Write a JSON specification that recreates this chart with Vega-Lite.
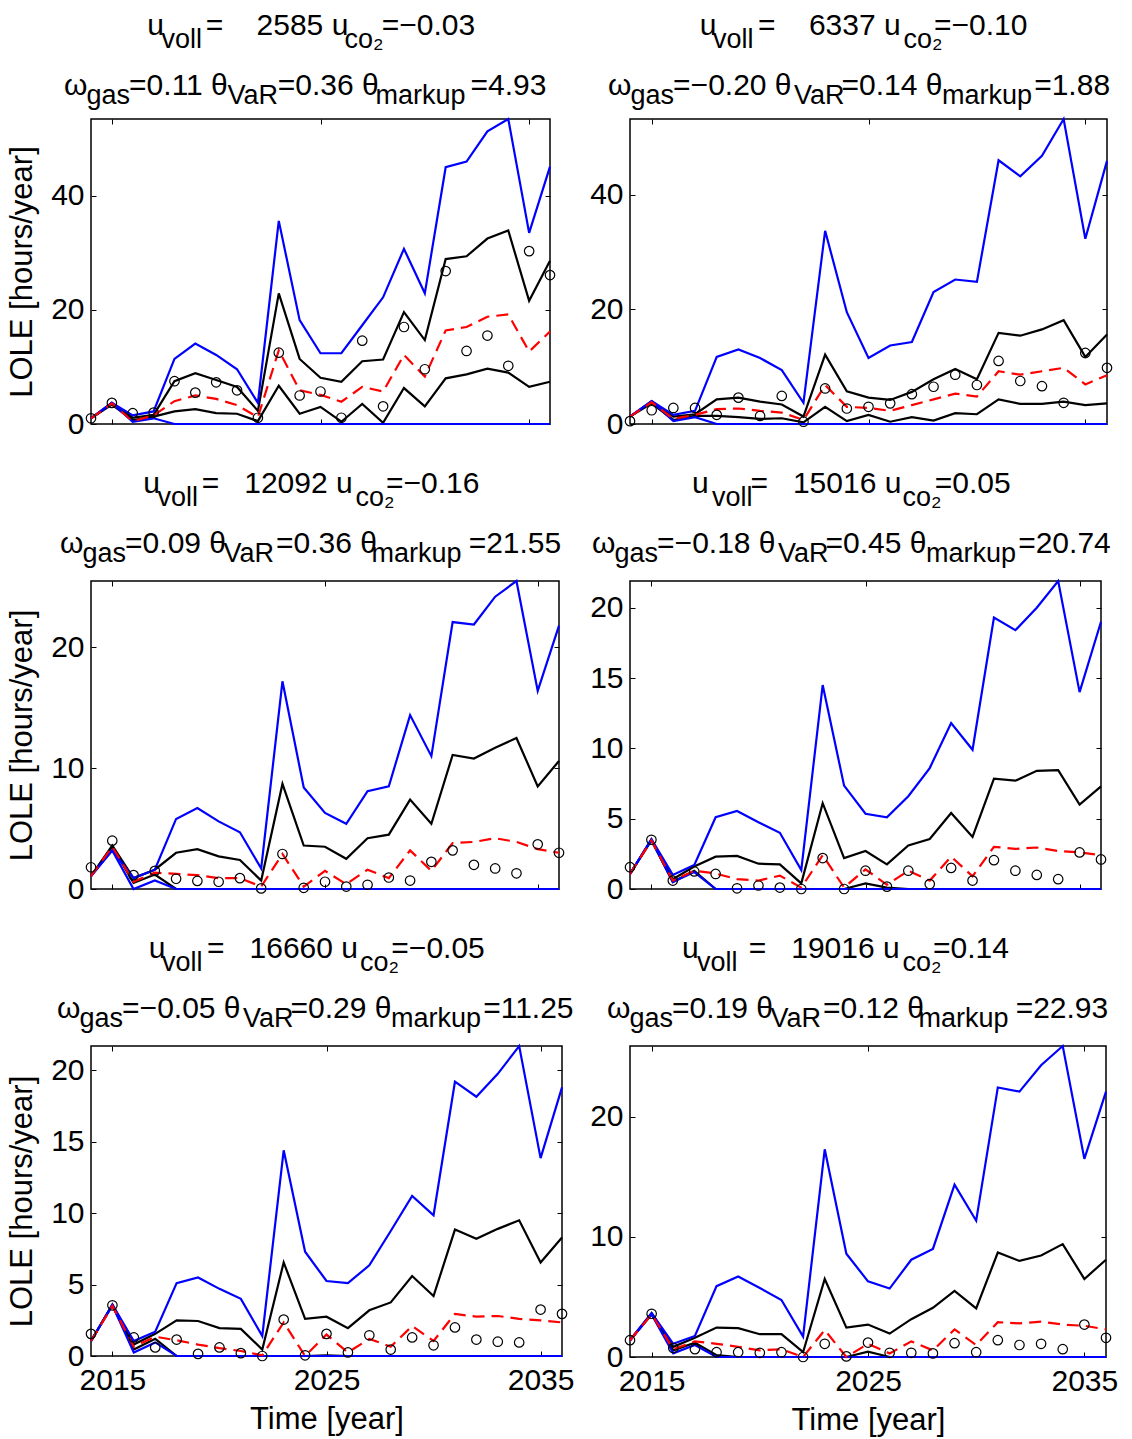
{
"$schema": "https://vega.github.io/schema/vega-lite/v6.json",
"background": "white",
"padding": {"left": 5, "top": 9, "right": 5, "bottom": 5},
"data": {"values": [
{"p":1,"year":2014,"bh":1.0,"bl":1.0,"kh":1.0,"kl":1.0,"md":1.0,"ob":1.0},
{"p":1,"year":2015,"bh":3.7,"bl":3.7,"kh":3.7,"kl":3.4,"md":3.6,"ob":3.7},
{"p":1,"year":2016,"bh":1.5,"bl":0.4,"kh":1.1,"kl":0.7,"md":0.5,"ob":1.9},
{"p":1,"year":2017,"bh":2.2,"bl":1.0,"kh":1.6,"kl":1.3,"md":1.5,"ob":2.0},
{"p":1,"year":2018,"bh":11.4,"bl":0,"kh":7.5,"kl":2.2,"md":4.0,"ob":7.5},
{"p":1,"year":2019,"bh":14.1,"bl":0,"kh":8.9,"kl":2.6,"md":5.0,"ob":5.5},
{"p":1,"year":2020,"bh":12.1,"bl":0,"kh":7.7,"kl":1.9,"md":4.4,"ob":7.3},
{"p":1,"year":2021,"bh":9.6,"bl":0,"kh":6.5,"kl":1.8,"md":3.3,"ob":5.9},
{"p":1,"year":2022,"bh":3.7,"bl":0,"kh":2.3,"kl":0.5,"md":1.2,"ob":1.1},
{"p":1,"year":2023,"bh":35.6,"bl":0,"kh":22.9,"kl":6.7,"md":12.9,"ob":12.5},
{"p":1,"year":2024,"bh":18.2,"bl":0,"kh":11.4,"kl":1.8,"md":5.9,"ob":5.0},
{"p":1,"year":2025,"bh":12.4,"bl":0,"kh":8.1,"kl":3.0,"md":5.1,"ob":5.7},
{"p":1,"year":2026,"bh":12.4,"bl":0,"kh":7.4,"kl":0.4,"md":3.9,"ob":1.1},
{"p":1,"year":2027,"bh":17.3,"bl":0,"kh":11.0,"kl":3.5,"md":6.5,"ob":14.6},
{"p":1,"year":2028,"bh":22.2,"bl":0,"kh":11.3,"kl":0.2,"md":5.7,"ob":3.1},
{"p":1,"year":2029,"bh":30.7,"bl":0,"kh":19.6,"kl":6.3,"md":12.1,"ob":17.0},
{"p":1,"year":2030,"bh":22.9,"bl":0,"kh":14.7,"kl":3.1,"md":8.3,"ob":9.6},
{"p":1,"year":2031,"bh":45.0,"bl":0,"kh":28.9,"kl":8.0,"md":16.4,"ob":26.8},
{"p":1,"year":2032,"bh":46.0,"bl":0,"kh":29.4,"kl":8.7,"md":17.0,"ob":12.8},
{"p":1,"year":2033,"bh":51.3,"bl":0,"kh":32.5,"kl":9.7,"md":18.8,"ob":15.5},
{"p":1,"year":2034,"bh":53.45,"bl":0,"kh":33.9,"kl":9.0,"md":19.2,"ob":10.2},
{"p":1,"year":2035,"bh":33.5,"bl":0,"kh":21.6,"kl":6.5,"md":12.7,"ob":30.3},
{"p":1,"year":2036,"bh":45.1,"bl":0,"kh":28.6,"kl":7.4,"md":16.2,"ob":26.1},
{"p":2,"year":2014,"bh":1.3,"bl":1.3,"kh":1.3,"kl":1.3,"md":1.3,"ob":0.5},
{"p":2,"year":2015,"bh":4.0,"bl":4.0,"kh":3.9,"kl":3.6,"md":3.8,"ob":2.4},
{"p":2,"year":2016,"bh":1.6,"bl":0.5,"kh":1.3,"kl":0.7,"md":0.9,"ob":2.8},
{"p":2,"year":2017,"bh":2.3,"bl":1.2,"kh":1.7,"kl":1.4,"md":1.6,"ob":2.8},
{"p":2,"year":2018,"bh":11.7,"bl":0,"kh":4.3,"kl":1.4,"md":2.6,"ob":1.6},
{"p":2,"year":2019,"bh":13.0,"bl":0,"kh":4.6,"kl":1.2,"md":2.7,"ob":4.6},
{"p":2,"year":2020,"bh":11.5,"bl":0,"kh":3.9,"kl":0.9,"md":2.3,"ob":1.4},
{"p":2,"year":2021,"bh":9.4,"bl":0,"kh":3.4,"kl":1.0,"md":2.0,"ob":4.9},
{"p":2,"year":2022,"bh":3.7,"bl":0,"kh":1.3,"kl":0.3,"md":0.7,"ob":0.4},
{"p":2,"year":2023,"bh":33.7,"bl":0,"kh":12.1,"kl":3.0,"md":6.8,"ob":6.2},
{"p":2,"year":2024,"bh":19.5,"bl":0,"kh":5.7,"kl":0.5,"md":3.0,"ob":2.7},
{"p":2,"year":2025,"bh":11.5,"bl":0,"kh":4.6,"kl":1.6,"md":2.8,"ob":3.0},
{"p":2,"year":2026,"bh":13.7,"bl":0,"kh":4.2,"kl":0.4,"md":2.3,"ob":3.6},
{"p":2,"year":2027,"bh":14.3,"bl":0,"kh":5.6,"kl":1.2,"md":3.3,"ob":5.2},
{"p":2,"year":2028,"bh":23.0,"bl":0,"kh":7.8,"kl":0.6,"md":4.3,"ob":6.5},
{"p":2,"year":2029,"bh":25.2,"bl":0,"kh":9.6,"kl":1.9,"md":5.3,"ob":8.6},
{"p":2,"year":2030,"bh":24.8,"bl":0,"kh":7.8,"kl":1.7,"md":4.8,"ob":6.8},
{"p":2,"year":2031,"bh":46.0,"bl":0,"kh":15.9,"kl":4.3,"md":9.2,"ob":11.0},
{"p":2,"year":2032,"bh":43.2,"bl":0,"kh":15.4,"kl":3.5,"md":8.6,"ob":7.5},
{"p":2,"year":2033,"bh":46.8,"bl":0,"kh":16.5,"kl":3.5,"md":9.2,"ob":6.6},
{"p":2,"year":2034,"bh":53.2,"bl":0,"kh":18.1,"kl":3.9,"md":9.8,"ob":3.7},
{"p":2,"year":2035,"bh":32.3,"bl":0,"kh":11.7,"kl":3.3,"md":6.9,"ob":12.4},
{"p":2,"year":2036,"bh":45.9,"bl":0,"kh":15.6,"kl":3.6,"md":8.5,"ob":9.8},
{"p":3,"year":2014,"bh":1.07,"bl":1.07,"kh":1.07,"kl":1.07,"md":1.07,"ob":1.8},
{"p":3,"year":2015,"bh":3.2,"bl":3.2,"kh":3.6,"kl":3.5,"md":3.5,"ob":4.0},
{"p":3,"year":2016,"bh":0.9,"bl":0,"kh":0.9,"kl":0.5,"md":0.6,"ob":1.15},
{"p":3,"year":2017,"bh":1.6,"bl":0.7,"kh":1.6,"kl":1.2,"md":1.35,"ob":1.5},
{"p":3,"year":2018,"bh":5.8,"bl":0,"kh":3.0,"kl":0,"md":1.25,"ob":0.85},
{"p":3,"year":2019,"bh":6.7,"bl":0,"kh":3.3,"kl":0,"md":1.15,"ob":0.67},
{"p":3,"year":2020,"bh":5.6,"bl":0,"kh":2.7,"kl":0,"md":0.9,"ob":0.6},
{"p":3,"year":2021,"bh":4.7,"bl":0,"kh":2.4,"kl":0,"md":0.9,"ob":0.9},
{"p":3,"year":2022,"bh":1.7,"bl":0,"kh":0.7,"kl":0,"md":0.2,"ob":0.05},
{"p":3,"year":2023,"bh":17.2,"bl":0,"kh":8.7,"kl":0,"md":2.9,"ob":2.9},
{"p":3,"year":2024,"bh":8.4,"bl":0,"kh":3.6,"kl":0,"md":0.2,"ob":0.1},
{"p":3,"year":2025,"bh":6.3,"bl":0,"kh":3.5,"kl":0,"md":1.5,"ob":0.6},
{"p":3,"year":2026,"bh":5.4,"bl":0,"kh":2.5,"kl":0,"md":0.4,"ob":0.2},
{"p":3,"year":2027,"bh":8.1,"bl":0,"kh":4.2,"kl":0,"md":1.6,"ob":0.35},
{"p":3,"year":2028,"bh":8.5,"bl":0,"kh":4.5,"kl":0,"md":0.9,"ob":0.95},
{"p":3,"year":2029,"bh":14.4,"bl":0,"kh":7.4,"kl":0,"md":3.2,"ob":0.7},
{"p":3,"year":2030,"bh":11.0,"bl":0,"kh":5.4,"kl":0,"md":1.5,"ob":2.25},
{"p":3,"year":2031,"bh":22.1,"bl":0,"kh":11.1,"kl":0,"md":3.8,"ob":3.2},
{"p":3,"year":2032,"bh":21.9,"bl":0,"kh":10.8,"kl":0,"md":3.9,"ob":2.0},
{"p":3,"year":2033,"bh":24.2,"bl":0,"kh":11.7,"kl":0,"md":4.2,"ob":1.7},
{"p":3,"year":2034,"bh":25.5,"bl":0,"kh":12.5,"kl":0,"md":3.9,"ob":1.3},
{"p":3,"year":2035,"bh":16.4,"bl":0,"kh":8.5,"kl":0,"md":3.3,"ob":3.7},
{"p":3,"year":2036,"bh":21.8,"bl":0,"kh":10.6,"kl":0,"md":3.0,"ob":3.0},
{"p":4,"year":2014,"bh":1.07,"bl":1.07,"kh":1.07,"kl":1.07,"md":1.07,"ob":1.55},
{"p":4,"year":2015,"bh":3.55,"bl":3.5,"kh":3.5,"kl":3.45,"md":3.45,"ob":3.5},
{"p":4,"year":2016,"bh":1.0,"bl":0.5,"kh":0.7,"kl":0.5,"md":0.6,"ob":0.6},
{"p":4,"year":2017,"bh":1.7,"bl":1.2,"kh":1.6,"kl":1.3,"md":1.3,"ob":1.25},
{"p":4,"year":2018,"bh":5.1,"bl":0,"kh":2.3,"kl":0,"md":1.1,"ob":1.07},
{"p":4,"year":2019,"bh":5.55,"bl":0,"kh":2.35,"kl":0,"md":0.7,"ob":0.05},
{"p":4,"year":2020,"bh":4.75,"bl":0,"kh":1.8,"kl":0,"md":0.6,"ob":0.25},
{"p":4,"year":2021,"bh":4.0,"bl":0,"kh":1.75,"kl":0,"md":0.95,"ob":0.1},
{"p":4,"year":2022,"bh":1.35,"bl":0,"kh":0.4,"kl":0,"md":0.1,"ob":0},
{"p":4,"year":2023,"bh":14.5,"bl":0,"kh":6.1,"kl":0,"md":2.4,"ob":2.2},
{"p":4,"year":2024,"bh":7.35,"bl":0,"kh":2.2,"kl":0,"md":0.1,"ob":0},
{"p":4,"year":2025,"bh":5.35,"bl":0,"kh":2.7,"kl":0.4,"md":1.4,"ob":1.3},
{"p":4,"year":2026,"bh":5.1,"bl":0,"kh":1.75,"kl":0.1,"md":0.3,"ob":0.17},
{"p":4,"year":2027,"bh":6.6,"bl":0,"kh":3.1,"kl":0,"md":1.3,"ob":1.3},
{"p":4,"year":2028,"bh":8.6,"bl":0,"kh":3.55,"kl":0,"md":0.6,"ob":0.35},
{"p":4,"year":2029,"bh":11.8,"bl":0,"kh":5.4,"kl":0,"md":2.3,"ob":1.5},
{"p":4,"year":2030,"bh":9.9,"bl":0,"kh":3.7,"kl":0,"md":0.9,"ob":0.6},
{"p":4,"year":2031,"bh":19.3,"bl":0,"kh":7.85,"kl":0,"md":3.0,"ob":2.05},
{"p":4,"year":2032,"bh":18.4,"bl":0,"kh":7.7,"kl":0,"md":2.85,"ob":1.3},
{"p":4,"year":2033,"bh":20.0,"bl":0,"kh":8.4,"kl":0,"md":2.95,"ob":1.0},
{"p":4,"year":2034,"bh":21.9,"bl":0,"kh":8.45,"kl":0,"md":2.7,"ob":0.7},
{"p":4,"year":2035,"bh":14.0,"bl":0,"kh":6.0,"kl":0,"md":2.6,"ob":2.6},
{"p":4,"year":2036,"bh":19.0,"bl":0,"kh":7.3,"kl":0,"md":2.4,"ob":2.1},
{"p":5,"year":2014,"bh":1.05,"bl":1.05,"kh":1.05,"kl":1.05,"md":1.05,"ob":1.55},
{"p":5,"year":2015,"bh":3.6,"bl":3.55,"kh":3.6,"kl":3.55,"md":3.5,"ob":3.55},
{"p":5,"year":2016,"bh":1.05,"bl":0.25,"kh":0.8,"kl":0.45,"md":0.65,"ob":1.3},
{"p":5,"year":2017,"bh":1.7,"bl":0.95,"kh":1.55,"kl":1.2,"md":1.35,"ob":0.6},
{"p":5,"year":2018,"bh":5.1,"bl":0,"kh":2.5,"kl":0,"md":1.1,"ob":1.15},
{"p":5,"year":2019,"bh":5.5,"bl":0,"kh":2.45,"kl":0,"md":0.8,"ob":0.15},
{"p":5,"year":2020,"bh":4.7,"bl":0,"kh":1.95,"kl":0,"md":0.55,"ob":0.6},
{"p":5,"year":2021,"bh":4.0,"bl":0,"kh":1.9,"kl":0,"md":0.35,"ob":0.2},
{"p":5,"year":2022,"bh":1.4,"bl":0,"kh":0.45,"kl":0,"md":0.05,"ob":0},
{"p":5,"year":2023,"bh":14.4,"bl":0,"kh":6.55,"kl":0,"md":2.35,"ob":2.55},
{"p":5,"year":2024,"bh":7.3,"bl":0,"kh":2.6,"kl":0,"md":0,"ob":0.05},
{"p":5,"year":2025,"bh":5.25,"bl":0,"kh":2.75,"kl":0.05,"md":1.5,"ob":1.55},
{"p":5,"year":2026,"bh":5.1,"bl":0,"kh":1.95,"kl":0,"md":0.25,"ob":0.25},
{"p":5,"year":2027,"bh":6.35,"bl":0,"kh":3.2,"kl":0,"md":1.2,"ob":1.45},
{"p":5,"year":2028,"bh":8.75,"bl":0,"kh":3.75,"kl":0,"md":0.65,"ob":0.45},
{"p":5,"year":2029,"bh":11.2,"bl":0,"kh":5.6,"kl":0,"md":2.1,"ob":1.3},
{"p":5,"year":2030,"bh":9.85,"bl":0,"kh":4.2,"kl":0,"md":1.05,"ob":0.75},
{"p":5,"year":2031,"bh":19.2,"bl":0,"kh":8.85,"kl":0,"md":2.95,"ob":2.0},
{"p":5,"year":2032,"bh":18.15,"bl":0,"kh":8.2,"kl":0,"md":2.75,"ob":1.15},
{"p":5,"year":2033,"bh":19.75,"bl":0,"kh":8.9,"kl":0,"md":2.8,"ob":1.0},
{"p":5,"year":2034,"bh":21.7,"bl":0,"kh":9.5,"kl":0,"md":2.6,"ob":0.95},
{"p":5,"year":2035,"bh":13.85,"bl":0,"kh":6.55,"kl":0,"md":2.5,"ob":3.25},
{"p":5,"year":2036,"bh":18.8,"bl":0,"kh":8.3,"kl":0,"md":2.35,"ob":2.95},
{"p":6,"year":2014,"bh":1.4,"bl":1.4,"kh":1.4,"kl":1.4,"md":1.4,"ob":1.4},
{"p":6,"year":2015,"bh":3.65,"bl":3.55,"kh":3.65,"kl":3.55,"md":3.55,"ob":3.6},
{"p":6,"year":2016,"bh":1.1,"bl":0.3,"kh":0.85,"kl":0.55,"md":0.65,"ob":0.75},
{"p":6,"year":2017,"bh":1.75,"bl":1.0,"kh":1.6,"kl":1.2,"md":1.3,"ob":0.65},
{"p":6,"year":2018,"bh":5.9,"bl":0,"kh":2.45,"kl":0.15,"md":1.1,"ob":0.4},
{"p":6,"year":2019,"bh":6.7,"bl":0,"kh":2.4,"kl":0,"md":0.85,"ob":0.4},
{"p":6,"year":2020,"bh":5.75,"bl":0,"kh":1.9,"kl":0,"md":0.55,"ob":0.35},
{"p":6,"year":2021,"bh":4.75,"bl":0,"kh":1.9,"kl":0,"md":0.65,"ob":0.4},
{"p":6,"year":2022,"bh":1.7,"bl":0,"kh":0.4,"kl":0,"md":0,"ob":0},
{"p":6,"year":2023,"bh":17.3,"bl":0,"kh":6.5,"kl":0,"md":2.25,"ob":1.1},
{"p":6,"year":2024,"bh":8.6,"bl":0,"kh":2.45,"kl":0,"md":0,"ob":0.05},
{"p":6,"year":2025,"bh":6.3,"bl":0,"kh":2.7,"kl":0.45,"md":1.1,"ob":1.2},
{"p":6,"year":2026,"bh":5.7,"bl":0,"kh":1.95,"kl":0,"md":0.3,"ob":0.35},
{"p":6,"year":2027,"bh":8.1,"bl":0,"kh":3.15,"kl":0,"md":1.3,"ob":0.35},
{"p":6,"year":2028,"bh":9.0,"bl":0,"kh":4.1,"kl":0,"md":0.55,"ob":0.3},
{"p":6,"year":2029,"bh":14.35,"bl":0,"kh":5.5,"kl":0,"md":2.3,"ob":1.15},
{"p":6,"year":2030,"bh":11.35,"bl":0,"kh":4.05,"kl":0,"md":1.0,"ob":0.4},
{"p":6,"year":2031,"bh":22.45,"bl":0,"kh":8.7,"kl":0,"md":2.9,"ob":1.4},
{"p":6,"year":2032,"bh":22.1,"bl":0,"kh":8.0,"kl":0,"md":2.8,"ob":1.0},
{"p":6,"year":2033,"bh":24.3,"bl":0,"kh":8.45,"kl":0,"md":2.95,"ob":1.1},
{"p":6,"year":2034,"bh":25.9,"bl":0,"kh":9.4,"kl":0,"md":2.7,"ob":0.65},
{"p":6,"year":2035,"bh":16.5,"bl":0,"kh":6.5,"kl":0,"md":2.6,"ob":2.7},
{"p":6,"year":2036,"bh":22.1,"bl":0,"kh":8.1,"kl":0,"md":2.3,"ob":1.6}
]},
"columns": 2,
"spacing": {"row": 157, "column": 68},
"bounds": "flush",
"resolve": {"scale": {"x": "independent", "y": "independent"}},
"concat": [
{"width": 459, "height": 305,
 "title": {"text": ["\u200b\u00a0\u00a0\u00a0\u00a0\u00a0\u00a0\u00a0\u00a0\u00a0\u00a0u\u00a0\u00a0\u00a0\u00a0\u00a0=\u00a0\u00a0\u00a0\u00a02585\u00a0u\u00a0\u00a0\u00a0\u00a0=\u22120.03", "\u200b\u03c9\u00a0\u00a0\u00a0\u00a0\u00a0=0.11 \u03b8\u00a0\u00a0\u00a0\u00a0\u00a0\u00a0=0.36 \u03b8\u00a0\u00a0\u00a0\u00a0\u00a0\u00a0\u00a0\u00a0\u00a0\u00a0\u00a0=4.93"],
  "subtitle": ["\u200b\u00a0\u00a0\u00a0\u00a0\u00a0\u00a0\u00a0\u00a0\u00a0\u00a0\u00a0\u00a0\u00a0voll\u00a0\u00a0\u00a0\u00a0\u00a0\u00a0\u00a0\u00a0\u00a0\u00a0\u00a0\u00a0\u00a0\u00a0\u00a0\u00a0\u00a0\u00a0\u00a0co\u2082", "\u200b\u00a0\u00a0\u00a0gas\u00a0\u00a0\u00a0\u00a0\u00a0\u00a0\u00a0\u00a0\u00a0\u00a0\u00a0\u00a0\u00a0VaR\u00a0\u00a0\u00a0\u00a0\u00a0\u00a0\u00a0\u00a0\u00a0\u00a0\u00a0\u00a0\u00a0markup"],
  "dx": -27},
 "transform": [{"filter": "datum.p == 1"}],
 "resolve": {"axis": {"x": "independent", "y": "independent"}},
 "layer": [
  {"transform": [{"fold": ["kh", "kl", "bh", "bl"], "as": ["s", "v"]}],
   "mark": {"type": "line", "strokeWidth": 2.2},
   "encoding": {
    "x": {"field": "year", "type": "quantitative", "scale": {"domain": [2014, 2036], "nice": false, "zero": false}, "axis": {"title": null, "labels": false, "values": [2015, 2025, 2035]}},
    "y": {"field": "v", "type": "quantitative", "scale": {"domain": [0, 53.45], "nice": false}, "axis": {"title": "LOLE [hours/year]", "values": [0, 20, 40]}},
    "color": {"field": "s", "type": "nominal", "scale": {"domain": ["kh", "kl", "bh", "bl"], "range": ["#000000", "#000000", "#0000ff", "#0000ff"]}, "legend": null}}},
  {"mark": {"type": "line", "color": "#ff0000", "strokeWidth": 2.2, "strokeDash": [12, 7]},
   "encoding": {
    "x": {"field": "year", "type": "quantitative", "scale": {"domain": [2014, 2036], "nice": false, "zero": false}, "axis": null},
    "y": {"field": "md", "type": "quantitative", "scale": {"domain": [0, 53.45], "nice": false}, "axis": null}}},
  {"mark": {"type": "point", "shape": "circle", "filled": false, "color": "#000000", "size": 90, "strokeWidth": 1.2, "opacity": 1},
   "encoding": {
    "x": {"field": "year", "type": "quantitative", "scale": {"domain": [2014, 2036], "nice": false, "zero": false}, "axis": {"orient": "top", "title": null, "labels": false, "values": [2015, 2025, 2035], "minExtent": 0, "maxExtent": 0}},
    "y": {"field": "ob", "type": "quantitative", "scale": {"domain": [0, 53.45], "nice": false}, "axis": {"orient": "right", "title": null, "labels": false, "values": [0, 20, 40], "minExtent": 0, "maxExtent": 0}}}}
 ]},
{"width": 477, "height": 305,
 "title": {"text": ["\u200b\u00a0\u00a0\u00a0\u00a0\u00a0\u00a0\u00a0\u00a0\u00a0\u00a0\u00a0u\u00a0\u00a0\u00a0\u00a0\u00a0=\u00a0\u00a0\u00a0\u00a06337\u00a0u\u00a0\u00a0\u00a0\u00a0=\u22120.10", "\u200b\u03c9\u00a0\u00a0\u00a0\u00a0\u00a0=\u22120.20 \u03b8\u00a0\u00a0\u00a0\u00a0\u00a0\u00a0=0.14 \u03b8\u00a0\u00a0\u00a0\u00a0\u00a0\u00a0\u00a0\u00a0\u00a0\u00a0\u00a0=1.88"],
  "subtitle": ["\u200b\u00a0\u00a0\u00a0\u00a0\u00a0\u00a0\u00a0\u00a0\u00a0\u00a0\u00a0\u00a0\u00a0\u00a0voll\u00a0\u00a0\u00a0\u00a0\u00a0\u00a0\u00a0\u00a0\u00a0\u00a0\u00a0\u00a0\u00a0\u00a0\u00a0\u00a0\u00a0\u00a0\u00a0\u00a0co\u2082", "\u200b\u00a0\u00a0\u00a0gas\u00a0\u00a0\u00a0\u00a0\u00a0\u00a0\u00a0\u00a0\u00a0\u00a0\u00a0\u00a0\u00a0\u00a0\u00a0\u00a0VaR\u00a0\u00a0\u00a0\u00a0\u00a0\u00a0\u00a0\u00a0\u00a0\u00a0\u00a0\u00a0\u00a0markup"],
  "dx": -22},
 "transform": [{"filter": "datum.p == 2"}],
 "resolve": {"axis": {"x": "independent", "y": "independent"}},
 "layer": [
  {"transform": [{"fold": ["kh", "kl", "bh", "bl"], "as": ["s", "v"]}],
   "mark": {"type": "line", "strokeWidth": 2.2},
   "encoding": {
    "x": {"field": "year", "type": "quantitative", "scale": {"domain": [2014, 2036], "nice": false, "zero": false}, "axis": {"title": null, "labels": false, "values": [2015, 2025, 2035]}},
    "y": {"field": "v", "type": "quantitative", "scale": {"domain": [0, 53.2], "nice": false}, "axis": {"title": null, "values": [0, 20, 40]}},
    "color": {"field": "s", "type": "nominal", "scale": {"domain": ["kh", "kl", "bh", "bl"], "range": ["#000000", "#000000", "#0000ff", "#0000ff"]}, "legend": null}}},
  {"mark": {"type": "line", "color": "#ff0000", "strokeWidth": 2.2, "strokeDash": [12, 7]},
   "encoding": {
    "x": {"field": "year", "type": "quantitative", "scale": {"domain": [2014, 2036], "nice": false, "zero": false}, "axis": null},
    "y": {"field": "md", "type": "quantitative", "scale": {"domain": [0, 53.2], "nice": false}, "axis": null}}},
  {"mark": {"type": "point", "shape": "circle", "filled": false, "color": "#000000", "size": 90, "strokeWidth": 1.2, "opacity": 1},
   "encoding": {
    "x": {"field": "year", "type": "quantitative", "scale": {"domain": [2014, 2036], "nice": false, "zero": false}, "axis": {"orient": "top", "title": null, "labels": false, "values": [2015, 2025, 2035], "minExtent": 0, "maxExtent": 0}},
    "y": {"field": "ob", "type": "quantitative", "scale": {"domain": [0, 53.2], "nice": false}, "axis": {"orient": "right", "title": null, "labels": false, "values": [0, 20, 40], "minExtent": 0, "maxExtent": 0}}}}
 ]},
{"width": 468, "height": 308,
 "title": {"text": ["\u200b\u00a0\u00a0\u00a0\u00a0\u00a0\u00a0\u00a0\u00a0\u00a0\u00a0u\u00a0\u00a0\u00a0\u00a0\u00a0=\u00a0\u00a0\u00a012092\u00a0u\u00a0\u00a0\u00a0\u00a0=\u22120.16", "\u200b\u03c9\u00a0\u00a0\u00a0\u00a0\u00a0=0.09 \u03b8\u00a0\u00a0\u00a0\u00a0\u00a0\u00a0=0.36 \u03b8\u00a0\u00a0\u00a0\u00a0\u00a0\u00a0\u00a0\u00a0\u00a0\u00a0\u00a0=21.55"],
  "subtitle": ["\u200b\u00a0\u00a0\u00a0\u00a0\u00a0\u00a0\u00a0\u00a0\u00a0\u00a0\u00a0\u00a0\u00a0voll\u00a0\u00a0\u00a0\u00a0\u00a0\u00a0\u00a0\u00a0\u00a0\u00a0\u00a0\u00a0\u00a0\u00a0\u00a0\u00a0\u00a0\u00a0\u00a0\u00a0\u00a0co\u2082", "\u200b\u00a0\u00a0\u00a0gas\u00a0\u00a0\u00a0\u00a0\u00a0\u00a0\u00a0\u00a0\u00a0\u00a0\u00a0\u00a0\u00a0VaR\u00a0\u00a0\u00a0\u00a0\u00a0\u00a0\u00a0\u00a0\u00a0\u00a0\u00a0\u00a0\u00a0markup"],
  "dx": -31, "offset": 10},
 "transform": [{"filter": "datum.p == 3"}],
 "resolve": {"axis": {"x": "independent", "y": "independent"}},
 "layer": [
  {"transform": [{"fold": ["kh", "kl", "bh", "bl"], "as": ["s", "v"]}],
   "mark": {"type": "line", "strokeWidth": 2.2},
   "encoding": {
    "x": {"field": "year", "type": "quantitative", "scale": {"domain": [2014, 2036], "nice": false, "zero": false}, "axis": {"title": null, "labels": false, "values": [2015, 2025, 2035]}},
    "y": {"field": "v", "type": "quantitative", "scale": {"domain": [0, 25.5], "nice": false}, "axis": {"title": "LOLE [hours/year]", "values": [0, 10, 20]}},
    "color": {"field": "s", "type": "nominal", "scale": {"domain": ["kh", "kl", "bh", "bl"], "range": ["#000000", "#000000", "#0000ff", "#0000ff"]}, "legend": null}}},
  {"mark": {"type": "line", "color": "#ff0000", "strokeWidth": 2.2, "strokeDash": [12, 7]},
   "encoding": {
    "x": {"field": "year", "type": "quantitative", "scale": {"domain": [2014, 2036], "nice": false, "zero": false}, "axis": null},
    "y": {"field": "md", "type": "quantitative", "scale": {"domain": [0, 25.5], "nice": false}, "axis": null}}},
  {"mark": {"type": "point", "shape": "circle", "filled": false, "color": "#000000", "size": 90, "strokeWidth": 1.2, "opacity": 1},
   "encoding": {
    "x": {"field": "year", "type": "quantitative", "scale": {"domain": [2014, 2036], "nice": false, "zero": false}, "axis": {"orient": "top", "title": null, "labels": false, "values": [2015, 2025, 2035], "minExtent": 0, "maxExtent": 0}},
    "y": {"field": "ob", "type": "quantitative", "scale": {"domain": [0, 25.5], "nice": false}, "axis": {"orient": "right", "title": null, "labels": false, "values": [0, 10, 20], "minExtent": 0, "maxExtent": 0}}}}
 ]},
{"width": 471, "height": 308,
 "title": {"text": ["\u200b\u00a0\u00a0\u00a0\u00a0\u00a0\u00a0\u00a0\u00a0\u00a0\u00a0\u00a0\u00a0u\u00a0\u00a0\u00a0\u00a0\u00a0=\u00a0\u00a0\u00a015016\u00a0u\u00a0\u00a0\u00a0\u00a0=0.05", "\u200b\u03c9\u00a0\u00a0\u00a0\u00a0\u00a0=\u22120.18 \u03b8\u00a0\u00a0\u00a0\u00a0\u00a0\u00a0=0.45 \u03b8\u00a0\u00a0\u00a0\u00a0\u00a0\u00a0\u00a0\u00a0\u00a0\u00a0\u00a0=20.74"],
  "subtitle": ["\u200b\u00a0\u00a0\u00a0\u00a0\u00a0\u00a0\u00a0\u00a0\u00a0\u00a0\u00a0\u00a0\u00a0\u00a0\u00a0\u00a0voll\u00a0\u00a0\u00a0\u00a0\u00a0\u00a0\u00a0\u00a0\u00a0\u00a0\u00a0\u00a0\u00a0\u00a0\u00a0\u00a0\u00a0\u00a0\u00a0\u00a0co\u2082", "\u200b\u00a0\u00a0\u00a0gas\u00a0\u00a0\u00a0\u00a0\u00a0\u00a0\u00a0\u00a0\u00a0\u00a0\u00a0\u00a0\u00a0\u00a0\u00a0\u00a0VaR\u00a0\u00a0\u00a0\u00a0\u00a0\u00a0\u00a0\u00a0\u00a0\u00a0\u00a0\u00a0\u00a0markup"],
  "dx": -38, "offset": 10},
 "transform": [{"filter": "datum.p == 4"}],
 "resolve": {"axis": {"x": "independent", "y": "independent"}},
 "layer": [
  {"transform": [{"fold": ["kh", "kl", "bh", "bl"], "as": ["s", "v"]}],
   "mark": {"type": "line", "strokeWidth": 2.2},
   "encoding": {
    "x": {"field": "year", "type": "quantitative", "scale": {"domain": [2014, 2036], "nice": false, "zero": false}, "axis": {"title": null, "labels": false, "values": [2015, 2025, 2035]}},
    "y": {"field": "v", "type": "quantitative", "scale": {"domain": [0, 21.9], "nice": false}, "axis": {"title": null, "values": [0, 5, 10, 15, 20]}},
    "color": {"field": "s", "type": "nominal", "scale": {"domain": ["kh", "kl", "bh", "bl"], "range": ["#000000", "#000000", "#0000ff", "#0000ff"]}, "legend": null}}},
  {"mark": {"type": "line", "color": "#ff0000", "strokeWidth": 2.2, "strokeDash": [12, 7]},
   "encoding": {
    "x": {"field": "year", "type": "quantitative", "scale": {"domain": [2014, 2036], "nice": false, "zero": false}, "axis": null},
    "y": {"field": "md", "type": "quantitative", "scale": {"domain": [0, 21.9], "nice": false}, "axis": null}}},
  {"mark": {"type": "point", "shape": "circle", "filled": false, "color": "#000000", "size": 90, "strokeWidth": 1.2, "opacity": 1},
   "encoding": {
    "x": {"field": "year", "type": "quantitative", "scale": {"domain": [2014, 2036], "nice": false, "zero": false}, "axis": {"orient": "top", "title": null, "labels": false, "values": [2015, 2025, 2035], "minExtent": 0, "maxExtent": 0}},
    "y": {"field": "ob", "type": "quantitative", "scale": {"domain": [0, 21.9], "nice": false}, "axis": {"orient": "right", "title": null, "labels": false, "values": [0, 5, 10, 15, 20], "minExtent": 0, "maxExtent": 0}}}}
 ]},
{"width": 471, "height": 310,
 "title": {"text": ["\u200b\u00a0\u00a0\u00a0\u00a0\u00a0\u00a0\u00a0\u00a0\u00a0\u00a0\u00a0u\u00a0\u00a0\u00a0\u00a0\u00a0=\u00a0\u00a0\u00a016660\u00a0u\u00a0\u00a0\u00a0\u00a0=\u22120.05", "\u200b\u03c9\u00a0\u00a0\u00a0\u00a0\u00a0=\u22120.05 \u03b8\u00a0\u00a0\u00a0\u00a0\u00a0\u00a0=0.29 \u03b8\u00a0\u00a0\u00a0\u00a0\u00a0\u00a0\u00a0\u00a0\u00a0\u00a0\u00a0=11.25"],
  "subtitle": ["\u200b\u00a0\u00a0\u00a0\u00a0\u00a0\u00a0\u00a0\u00a0\u00a0\u00a0\u00a0\u00a0\u00a0\u00a0voll\u00a0\u00a0\u00a0\u00a0\u00a0\u00a0\u00a0\u00a0\u00a0\u00a0\u00a0\u00a0\u00a0\u00a0\u00a0\u00a0\u00a0\u00a0\u00a0\u00a0\u00a0co\u2082", "\u200b\u00a0\u00a0\u00a0gas\u00a0\u00a0\u00a0\u00a0\u00a0\u00a0\u00a0\u00a0\u00a0\u00a0\u00a0\u00a0\u00a0\u00a0\u00a0\u00a0VaR\u00a0\u00a0\u00a0\u00a0\u00a0\u00a0\u00a0\u00a0\u00a0\u00a0\u00a0\u00a0\u00a0markup"],
  "dx": -34, "offset": 10},
 "transform": [{"filter": "datum.p == 5"}],
 "resolve": {"axis": {"x": "independent", "y": "independent"}},
 "layer": [
  {"transform": [{"fold": ["kh", "kl", "bh", "bl"], "as": ["s", "v"]}],
   "mark": {"type": "line", "strokeWidth": 2.2},
   "encoding": {
    "x": {"field": "year", "type": "quantitative", "scale": {"domain": [2014, 2036], "nice": false, "zero": false}, "axis": {"title": "Time [year]", "format": "d", "values": [2015, 2025, 2035]}},
    "y": {"field": "v", "type": "quantitative", "scale": {"domain": [0, 21.7], "nice": false}, "axis": {"title": "LOLE [hours/year]", "values": [0, 5, 10, 15, 20]}},
    "color": {"field": "s", "type": "nominal", "scale": {"domain": ["kh", "kl", "bh", "bl"], "range": ["#000000", "#000000", "#0000ff", "#0000ff"]}, "legend": null}}},
  {"mark": {"type": "line", "color": "#ff0000", "strokeWidth": 2.2, "strokeDash": [12, 7]},
   "encoding": {
    "x": {"field": "year", "type": "quantitative", "scale": {"domain": [2014, 2036], "nice": false, "zero": false}, "axis": null},
    "y": {"field": "md", "type": "quantitative", "scale": {"domain": [0, 21.7], "nice": false}, "axis": null}}},
  {"mark": {"type": "point", "shape": "circle", "filled": false, "color": "#000000", "size": 90, "strokeWidth": 1.2, "opacity": 1},
   "encoding": {
    "x": {"field": "year", "type": "quantitative", "scale": {"domain": [2014, 2036], "nice": false, "zero": false}, "axis": {"orient": "top", "title": null, "labels": false, "values": [2015, 2025, 2035], "minExtent": 0, "maxExtent": 0}},
    "y": {"field": "ob", "type": "quantitative", "scale": {"domain": [0, 21.7], "nice": false}, "axis": {"orient": "right", "title": null, "labels": false, "values": [0, 5, 10, 15, 20], "minExtent": 0, "maxExtent": 0}}}}
 ]},
{"width": 476, "height": 311,
 "title": {"text": ["\u200b\u00a0\u00a0\u00a0\u00a0\u00a0\u00a0\u00a0\u00a0\u00a0u\u00a0\u00a0\u00a0\u00a0\u00a0\u00a0=\u00a0\u00a0\u00a019016\u00a0u\u00a0\u00a0\u00a0\u00a0=0.14", "\u200b\u03c9\u00a0\u00a0\u00a0\u00a0\u00a0=0.19 \u03b8\u00a0\u00a0\u00a0\u00a0\u00a0\u00a0=0.12 \u03b8\u00a0\u00a0\u00a0\u00a0\u00a0\u00a0\u00a0\u00a0\u00a0\u00a0\u00a0=22.93"],
  "subtitle": ["\u200b\u00a0\u00a0\u00a0\u00a0\u00a0\u00a0\u00a0\u00a0\u00a0\u00a0\u00a0\u00a0voll\u00a0\u00a0\u00a0\u00a0\u00a0\u00a0\u00a0\u00a0\u00a0\u00a0\u00a0\u00a0\u00a0\u00a0\u00a0\u00a0\u00a0\u00a0\u00a0\u00a0\u00a0\u00a0co\u2082", "\u200b\u00a0\u00a0\u00a0gas\u00a0\u00a0\u00a0\u00a0\u00a0\u00a0\u00a0\u00a0\u00a0\u00a0\u00a0\u00a0\u00a0VaR\u00a0\u00a0\u00a0\u00a0\u00a0\u00a0\u00a0\u00a0\u00a0\u00a0\u00a0\u00a0\u00a0markup"],
  "dx": -23, "offset": 10},
 "transform": [{"filter": "datum.p == 6"}],
 "resolve": {"axis": {"x": "independent", "y": "independent"}},
 "layer": [
  {"transform": [{"fold": ["kh", "kl", "bh", "bl"], "as": ["s", "v"]}],
   "mark": {"type": "line", "strokeWidth": 2.2},
   "encoding": {
    "x": {"field": "year", "type": "quantitative", "scale": {"domain": [2014, 2036], "nice": false, "zero": false}, "axis": {"title": "Time [year]", "format": "d", "values": [2015, 2025, 2035]}},
    "y": {"field": "v", "type": "quantitative", "scale": {"domain": [0, 25.9], "nice": false}, "axis": {"title": null, "values": [0, 10, 20]}},
    "color": {"field": "s", "type": "nominal", "scale": {"domain": ["kh", "kl", "bh", "bl"], "range": ["#000000", "#000000", "#0000ff", "#0000ff"]}, "legend": null}}},
  {"mark": {"type": "line", "color": "#ff0000", "strokeWidth": 2.2, "strokeDash": [12, 7]},
   "encoding": {
    "x": {"field": "year", "type": "quantitative", "scale": {"domain": [2014, 2036], "nice": false, "zero": false}, "axis": null},
    "y": {"field": "md", "type": "quantitative", "scale": {"domain": [0, 25.9], "nice": false}, "axis": null}}},
  {"mark": {"type": "point", "shape": "circle", "filled": false, "color": "#000000", "size": 90, "strokeWidth": 1.2, "opacity": 1},
   "encoding": {
    "x": {"field": "year", "type": "quantitative", "scale": {"domain": [2014, 2036], "nice": false, "zero": false}, "axis": {"orient": "top", "title": null, "labels": false, "values": [2015, 2025, 2035], "minExtent": 0, "maxExtent": 0}},
    "y": {"field": "ob", "type": "quantitative", "scale": {"domain": [0, 25.9], "nice": false}, "axis": {"orient": "right", "title": null, "labels": false, "values": [0, 10, 20], "minExtent": 0, "maxExtent": 0}}}}
 ]}
],
"config": {
 "view": {"stroke": "#000000", "strokeWidth": 1.5},
 "font": "Liberation Sans",
 "axis": {"grid": false, "domain": false, "tickColor": "#000000", "tickSize": -5, "tickWidth": 1, "labelColor": "#000000", "titleColor": "#000000", "labelFont": "Liberation Sans", "titleFont": "Liberation Sans", "labelFontSize": 30, "titleFontSize": 31, "titleFontWeight": "normal"},
 "axisX": {"labelPadding": 14, "titlePadding": 9},
 "axisY": {"labelPadding": 12, "minExtent": 50, "maxExtent": 50, "titlePadding": 3},
 "title": {"font": "Liberation Sans", "fontSize": 30, "fontWeight": "normal", "subtitleFont": "Liberation Sans", "subtitleFontSize": 27, "anchor": "start", "frame": "group", "align": "left", "baseline": "top", "lineHeight": 60, "subtitleLineHeight": 56, "subtitlePadding": -74, "offset": 6, "color": "#000000", "subtitleColor": "#000000", "limit": 2000}
}
}
